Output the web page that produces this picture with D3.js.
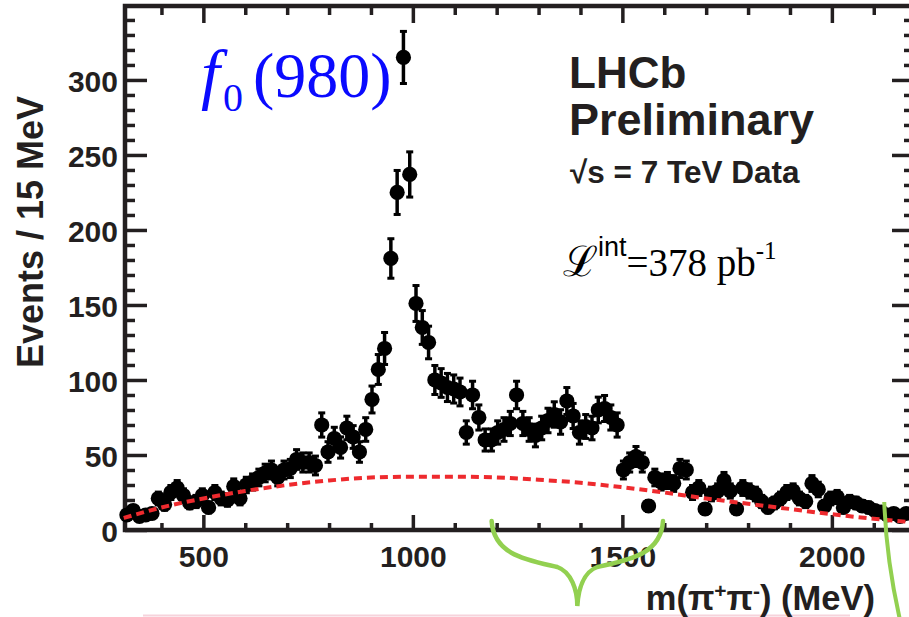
<!DOCTYPE html>
<html><head><meta charset="utf-8">
<script src="https://cdn.jsdelivr.net/npm/d3@7"></script>
<style>body{margin:0;background:#fff}svg{display:block}</style>
</head><body>
<svg id="chart" width="909" height="617"></svg>
<script>
// ---- data ----
const binStart = 310;          // MeV, lower edge of first bin
const binWidth = 15;           // MeV per bin
const counts = [10,13,9,10,11,21,17,25,28,23,18,19,23,15,25,21,20,29,21,30,
  32,35,38,40,35,40,41,47,45,45,43,70,52,61,55,68,62,52,67,87,
  107,121,181,225,315,237,151,135,125,100,98,95,94,92,65,90,75,60,60,65,
  67,71,90,71,67,63,68,73,77,72,86,76,65,69,68,80,81,75,70,40,
  45,49,45,16,35,32,33,31,41,40,25,28,14,24,26,33,26,14,28,26,
  24,19,15,18,21,25,26,21,19,31,27,16,21,22,15,19,18,16,15,13,
  12,10,11,9,11];
const errors = [3.2,3.6,3,3.2,3.3,4.6,4.1,5,5.3,4.8,4.2,4.4,4.8,3.9,5,4.6,4.5,5.4,4.6,5.5,
  5.7,5.9,6.2,6.3,5.9,6.3,6.4,6.9,6.7,6.7,6.6,8.4,7.2,7.8,7.4,8.2,7.9,7.2,8.2,9.3,
  10.3,11,13.5,15,17.7,15.4,12.3,11.6,11.2,10,9.9,9.7,9.7,9.6,8.1,9.5,8.7,7.7,7.7,8.1,
  8.2,8.4,9.5,8.4,8.2,7.9,8.2,8.5,8.8,8.5,9.3,8.7,8.1,8.3,8.2,8.9,9,8.7,8.4,6.3,
  6.7,7,6.7,4,5.9,5.7,5.7,5.6,6.4,6.3,5,5.3,3.7,4.9,5.1,5.7,5.1,3.7,5.3,5.1,
  4.9,4.4,3.9,4.2,4.6,5,5.1,4.6,4.4,5.6,5.2,4,4.6,4.7,3.9,4.4,4.2,4,3.9,3.6,
  3.5,3.2,3.3,3,3.3];
const bgMass  = [310,400,500,600,700,800,900,1000,1100,1200,1300,1400,1500,1600,1700,1800,1900,2000,2100,2200];
const bgValue = [8,15,21,26,30,33,35,35.5,35.5,35,33.5,31.5,28.5,25,21,17.5,14,10.5,7.5,5];
const xMajorTicks = [500,1000,1500,2000];
const xMinorTicks = [400,600,700,800,900,1100,1200,1300,1400,1600,1700,1800,1900,2100];
const yMajorTicks = [0,50,100,150,200,250,300];
const yMinorTicks = [10,20,30,40,60,70,80,90,110,120,130,140,160,170,180,190,210,220,230,240,260,270,280,290,310,320,330,340];

// ---- layout ----
const ink = "#231f20";
const sans = "'Liberation Sans', Arial, Helvetica, sans-serif";
const serif = "'Liberation Serif', 'Times New Roman', serif";
const svg = d3.select("#chart");
const x = d3.scaleLinear().domain([313, 2196]).range([125, 914]);
const y = d3.scaleLinear().domain([0, 349.3]).range([530, 6]);

// pink guide line at the very bottom
svg.append("line").attr("x1",143).attr("x2",850).attr("y1",615.5).attr("y2",615.5)
  .attr("stroke","#f6d3dc").attr("stroke-width",2);

function styleAxis(g){
  g.select(".domain").remove();
  g.selectAll(".tick line").attr("stroke", ink).attr("stroke-width", 3.5);
  g.selectAll("text").attr("fill", ink).attr("font-family", sans)
    .attr("font-weight","bold").attr("font-size", 30);
}
// bottom
svg.append("g").attr("transform",`translate(0,${y(0)})`)
  .call(d3.axisBottom(x).tickValues(xMajorTicks).tickSize(-15).tickFormat(d3.format("d")))
  .call(styleAxis)
  .call(g=>g.selectAll("text").attr("y",37).attr("dy",0));
svg.append("g").attr("transform",`translate(0,${y(0)})`)
  .call(d3.axisBottom(x).tickValues(xMinorTicks).tickSize(-7).tickFormat(""))
  .call(styleAxis);
// top
svg.append("g").attr("transform",`translate(0,${y.range()[1]})`)
  .call(d3.axisTop(x).tickValues(xMajorTicks).tickSize(-17).tickFormat(""))
  .call(styleAxis);
svg.append("g").attr("transform",`translate(0,${y.range()[1]})`)
  .call(d3.axisTop(x).tickValues(xMinorTicks).tickSize(-9).tickFormat(""))
  .call(styleAxis);
// left
svg.append("g").attr("transform",`translate(${x.range()[0]},0)`)
  .call(d3.axisLeft(y).tickValues(yMajorTicks).tickSize(-22).tickPadding(7).tickFormat(d3.format("d")))
  .call(styleAxis)
  .call(g=>g.selectAll("text").attr("dy",11.5));
svg.append("g").attr("transform",`translate(${x.range()[0]},0)`)
  .call(d3.axisLeft(y).tickValues(yMinorTicks).tickSize(-10).tickFormat(""))
  .call(styleAxis);
// right
svg.append("g").attr("transform",`translate(${x.range()[1]},0)`)
  .call(d3.axisRight(y).tickValues(yMajorTicks).tickSize(-22).tickFormat(""))
  .call(styleAxis);
svg.append("g").attr("transform",`translate(${x.range()[1]},0)`)
  .call(d3.axisRight(y).tickValues(yMinorTicks).tickSize(-10).tickFormat(""))
  .call(styleAxis);
// frame
svg.append("rect").attr("x",x.range()[0]).attr("y",y.range()[1])
  .attr("width",x.range()[1]-x.range()[0]).attr("height",y.range()[0]-y.range()[1])
  .attr("fill","none").attr("stroke",ink).attr("stroke-width",4.5);

// ---- data points ----
const pts = counts.map((v,i)=>({m: binStart + binWidth*(i+0.5), v, e: errors[i]}));
const gp = svg.append("g");
gp.selectAll("line.eb").data(pts).join("line").attr("class","eb")
  .attr("x1",d=>x(d.m)).attr("x2",d=>x(d.m))
  .attr("y1",d=>y(d.v-d.e)).attr("y2",d=>y(d.v+d.e))
  .attr("stroke","#000").attr("stroke-width",3.5);
gp.selectAll("rect.capt").data(pts).join("rect").attr("class","capt")
  .attr("x",d=>x(d.m)-3.5).attr("width",7).attr("y",d=>y(d.v+d.e)-1).attr("height",3).attr("fill","#000");
gp.selectAll("rect.capb").data(pts).join("rect").attr("class","capb")
  .attr("x",d=>x(d.m)-3.5).attr("width",7).attr("y",d=>y(d.v-d.e)-2).attr("height",3).attr("fill","#000");
gp.selectAll("circle").data(pts).join("circle")
  .attr("cx",d=>x(d.m)).attr("cy",d=>y(d.v)).attr("r",7.6).attr("fill","#000");

// ---- background curve ----
const bg = bgMass.map((m,i)=>({m, v: bgValue[i]}));
svg.append("path").datum(bg)
  .attr("d", d3.line().x(d=>x(d.m)).y(d=>y(d.v)).curve(d3.curveMonotoneX))
  .attr("fill","none").attr("stroke","#ee2a2e").attr("stroke-width",4)
  .attr("stroke-dasharray","8,5");

// ---- axis titles ----
svg.append("text").attr("transform","translate(43,368) rotate(-90)")
  .attr("font-family",sans).attr("font-weight","bold").attr("font-size",36).attr("fill",ink)
  .text("Events / 15 MeV");
const xt = svg.append("text").attr("x",875).attr("y",610).attr("text-anchor","end")
  .attr("font-family",sans).attr("font-weight","bold").attr("font-size",34.5).attr("fill",ink);
xt.append("tspan").text("m(π");
xt.append("tspan").attr("font-size",21).attr("dy",-12).text("+");
xt.append("tspan").attr("dy",12).text("π");
xt.append("tspan").attr("font-size",21).attr("dy",-12).text("-");
xt.append("tspan").attr("dy",12).text(") (MeV)");

// ---- labels ----
const f0 = svg.append("text").attr("font-family",serif).attr("fill","#0a0aff").attr("font-size",64);
f0.append("tspan").attr("x",201).attr("y",97).attr("font-size",68).attr("font-style","italic").text("f");
f0.append("tspan").attr("x",223).attr("y",111).attr("font-size",40).text("0");
f0.append("tspan").attr("x",253).attr("y",97).text("(980)");

svg.append("text").attr("x",569).attr("y",88).attr("font-family",sans).attr("font-weight","bold")
  .attr("font-size",44).attr("fill",ink).text("LHCb");
svg.append("text").attr("x",569).attr("y",135).attr("font-family",sans).attr("font-weight","bold")
  .attr("font-size",45).attr("fill",ink).text("Preliminary");
svg.append("text").attr("x",570).attr("y",183).attr("font-family",sans).attr("font-weight","bold")
  .attr("font-size",31.5).attr("fill",ink).text("√s = 7 TeV Data");
const lum = svg.append("text").attr("x",563).attr("y",276).attr("font-family",serif).attr("fill","#000").attr("font-size",39);
lum.append("tspan").attr("font-size",42).attr("font-family","'DejaVu Serif', serif").text("ℒ");
lum.append("tspan").attr("dy",-20).attr("font-family",sans).attr("font-size",27).text("int");
lum.append("tspan").attr("dy",20).text("=378 pb");
lum.append("tspan").attr("dy",-17).attr("font-size",25).text("-1");

// ---- green annotations ----
const green = "#92d050";
const bx0 = x(1188), bx1 = x(1597), bm = (bx0+bx1)/2;
svg.append("path")
  .attr("d",`M${bx0},521 C${bx0+2},555 ${bm-50},560 ${bm-20},567 C${bm-6},572 ${bm},590 ${bm},606 `+
            `C${bm+1},590 ${bm+6},572 ${bm+20},567 C${bm+50},560 ${bx1-2},555 ${bx1},521`)
  .attr("fill","none").attr("stroke",green).attr("stroke-width",4.5).attr("stroke-linecap","round");
svg.append("path").attr("d",`M${x(2125)},502 Q${x(2130)},560 900,620`)
  .attr("fill","none").attr("stroke",green).attr("stroke-width",4);
</script>
</body></html>
